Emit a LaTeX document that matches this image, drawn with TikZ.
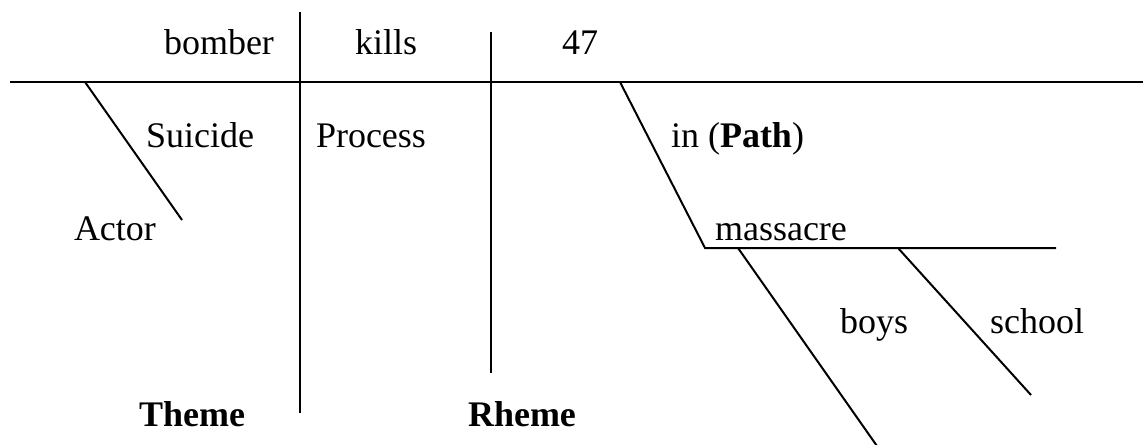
\documentclass[tikz,border=0pt]{standalone}
\usepackage{fontspec}
\setmainfont{Liberation Serif}

\begin{document}
\begin{tikzpicture}[x=0.5pt, y=-0.5pt, line width=1pt,
    word/.style={inner sep=0pt, anchor=base west, font=\fontsize{18}{21}\selectfont}]

	\useasboundingbox (0,0) rectangle (1143,444);

	% Diagram dimensions
	\def\mainy{82}
	\def\themeofs{300}
	\def\rhemeofs{491}
	\def\massy{248}

	% Main line
	\coordinate (mainleft) at (10,\mainy);
	\coordinate (mainright) at (1143,\mainy);
	\draw (mainleft) -- (mainright);

	% Dividers
	\draw (\themeofs,12) -- (\themeofs,413);
	\draw (\rhemeofs,32) -- (\rhemeofs,373);

	% Subject
	\node[word] (bomber) at (163,55) {bomber};
	\node[word] (suicide) at (145,147) {Suicide};
	\node[word] (actor) at (73,240) {Actor};
	\draw (85,\mainy) -- (182,220);

	% Verb
	\node[word] (kills) at (354,55) {kills};
	\node[word] (process) at (315,147) {Process};

	% Object
	\node[word] (num) at (561,55) {47};

	% Path
	\node[word] (path) at (670,147) {in (\textbf{Path})};
	\draw (620,\mainy) -- (705,\massy) -- (1056,\massy);
	\node[word] (massacre) at (714,240) {massacre};

	% Modifiers of massacre
	\draw (738,\massy) -- (884,456);
	\node[word] (boys) at (839,333) {boys};
	\draw (898,\massy) -- (1031,395);
	\node[word] (school) at (989,333) {school};

	% Theme and Rheme
	\node[word] (theme) at (138,426) {\textbf{Theme}};
	\node[word] (rheme) at (467,426) {\textbf{Rheme}};

\end{tikzpicture}
\end{document}
